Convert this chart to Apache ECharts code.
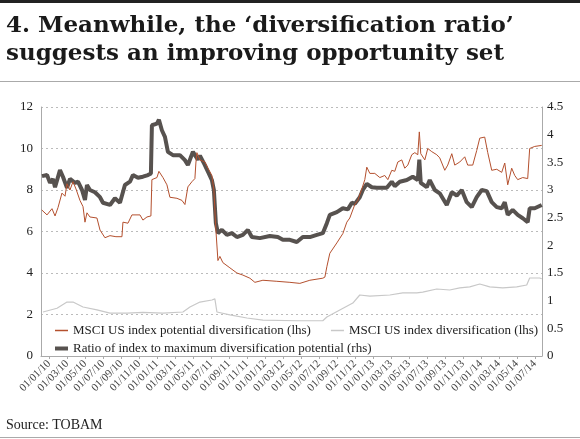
<!DOCTYPE html>
<html>
<head>
<meta charset="utf-8">
<script src="https://cdn.jsdelivr.net/npm/echarts@6/dist/echarts.min.js"></script>
<style>
html,body{margin:0;padding:0;background:#fff;}
#c{width:580px;height:439px;}
</style>
</head>
<body>
<div id="c"></div>
<script>
// x positions are months since 01/01/2010
const xTickLabels = ['01/01/10','01/03/10','01/05/10','01/07/10','01/09/10','01/11/10',
  '01/01/11','01/03/11','01/05/11','01/07/11','01/09/11','01/11/11',
  '01/01/12','01/03/12','01/05/12','01/07/12','01/09/12','01/11/12',
  '01/01/13','01/03/13','01/05/13','01/07/13','01/09/13','01/11/13',
  '01/01/14','01/03/14','01/05/14','01/07/14'];

const seriesNames = [
  'MSCI US index potential diversification (lhs)',
  'MSCI US index diversification (lhs)',
  'Ratio of index to maximum diversification potential (rhs)'
];

// MSCI US index potential diversification (lhs)
const potentialX = [-0.82,-0.23,0.32,0.66,0.99,1.43,1.77,1.99,2.32,2.66,2.99,3.43,3.77,3.99,4.21,4.54,5.32,5.66,6.21,6.77,7.43,8.1,8.21,8.77,9.21,10.1,10.43,10.88,11.32,11.43,11.99,12.21,12.66,13.1,13.43,14.21,14.77,15.1,15.43,15.88,16.21,16.32,16.43,16.77,17.32,17.66,18.1,18.32,18.54,18.77,18.99,19.32,20.1,20.88,21.54,22.32,22.88,23.77,25.32,26.77,27.88,28.99,30.43,30.66,30.88,31.21,31.99,32.66,33.1,33.43,33.99,34.32,34.77,35.1,35.32,35.66,36.21,36.77,37.32,37.66,38.1,38.43,38.77,39.21,39.54,39.88,40.32,40.66,40.99,41.16,41.32,41.77,42.1,42.54,43.1,43.43,43.99,44.32,44.77,45.1,45.66,46.21,46.54,47.1,47.54,47.88,48.43,48.77,49.21,49.77,50.32,50.66,50.99,51.43,51.77,52.1,52.66,53.21,53.38,53.43,53.99,54.77];
const potentialY = [7.04,6.8,7.1,6.75,7.15,7.85,7.7,8.3,8.0,8.4,8.05,7.5,7.2,6.45,6.9,6.7,6.65,6.07,5.7,5.8,5.75,5.75,6.45,6.4,6.8,6.8,6.55,6.7,6.75,8.5,8.6,8.9,8.6,8.25,7.65,7.6,7.5,7.3,8.15,8.4,8.55,9.3,9.8,9.45,9.35,9.05,8.7,8.0,6.1,4.6,4.8,4.5,4.25,4.0,3.9,3.75,3.55,3.65,3.6,3.55,3.5,3.65,3.75,3.8,4.3,4.95,5.45,5.9,6.45,6.65,7.3,7.5,8.05,8.5,9.1,8.8,8.8,8.6,8.7,8.5,8.95,8.9,9.35,9.45,9.05,9.2,9.7,9.8,9.7,10.8,9.75,9.45,10.0,9.85,9.7,9.55,8.95,9.2,9.75,9.2,9.35,9.6,9.2,9.2,9.9,10.5,10.55,9.8,8.95,9.0,8.85,9.3,8.25,9.05,8.7,8.5,8.6,8.55,8.6,10.0,10.1,10.15];

// MSCI US index diversification (lhs)
const diversX = [-0.68,0.88,1.99,2.66,3.77,5.32,6.77,8.66,10.43,12.66,14.88,15.66,16.77,18.1,18.43,18.66,20.1,21.99,23.77,27.54,30.43,30.88,32.32,33.77,34.54,35.66,37.88,39.32,40.88,41.54,43.1,44.54,45.66,46.77,47.88,48.99,50.43,51.99,53.1,53.43,54.54,54.77];
const diversY = [2.12,2.3,2.6,2.6,2.36,2.22,2.07,2.07,2.1,2.07,2.12,2.36,2.6,2.7,2.75,2.12,1.98,1.83,1.73,1.7,1.7,1.88,2.22,2.55,2.94,2.89,2.94,3.04,3.04,3.08,3.23,3.18,3.28,3.33,3.47,3.33,3.28,3.33,3.42,3.76,3.76,3.72];

// Ratio of index to maximum diversification potential (rhs)
const ratioX = [-0.79,-0.23,0.1,0.43,0.66,1.21,1.54,1.99,2.32,2.88,3.21,3.66,3.99,4.21,4.54,5.1,5.66,5.99,6.77,7.32,7.88,8.43,8.99,9.32,9.88,10.43,10.99,11.32,11.43,11.99,12.21,12.54,12.88,13.21,13.77,14.54,15.1,15.43,15.99,16.21,16.54,16.77,17.32,17.66,18.1,18.32,18.54,18.77,19.21,19.77,20.32,20.88,21.54,22.1,22.54,23.43,24.54,25.43,25.99,26.77,27.54,28.21,28.99,29.77,30.43,30.88,31.21,31.99,32.66,33.21,33.66,33.99,34.54,34.88,35.32,35.88,36.43,37.1,37.54,38.1,38.43,38.99,39.77,40.43,40.99,41.16,41.32,41.99,42.32,42.88,43.43,44.21,44.77,45.32,45.88,46.43,46.99,47.54,48.1,48.66,49.21,49.77,50.32,50.66,50.99,51.54,52.1,52.66,53.21,53.43,53.99,54.77];
const ratioY = [3.25,3.27,3.13,3.2,3.05,3.36,3.24,3.04,3.2,3.13,3.15,3.0,2.82,3.09,3.0,2.96,2.87,2.77,2.73,2.85,2.77,3.09,3.15,3.27,3.22,3.24,3.27,3.3,4.17,4.2,4.27,4.08,3.96,3.69,3.63,3.63,3.54,3.45,3.69,3.72,3.55,3.62,3.45,3.33,3.18,3.0,2.4,2.22,2.28,2.19,2.22,2.15,2.19,2.28,2.15,2.13,2.17,2.15,2.1,2.1,2.06,2.15,2.15,2.19,2.22,2.4,2.55,2.6,2.67,2.65,2.77,2.75,2.87,3.0,3.11,3.05,3.04,3.04,3.04,3.15,3.07,3.15,3.18,3.24,3.18,3.55,3.13,3.05,3.18,3.0,2.94,2.73,2.96,2.9,3.0,2.78,2.69,2.87,3.0,2.98,2.78,2.69,2.67,2.78,2.55,2.64,2.55,2.49,2.42,2.67,2.67,2.73];

const zip = (xs, ys) => xs.map((x, i) => [x, ys[i]]);
const tickPos = xTickLabels.map((_, i) => i * 2);

const serif = '"Liberation Serif", "DejaVu Serif", serif';
const chart = echarts.init(document.getElementById('c'), null, {renderer: 'canvas'});

chart.setOption({
  animation: false,
  backgroundColor: '#fff',
  title: [
    {
      text: '4. Meanwhile, the ‘diversification ratio’\nsuggests an improving opportunity set',
      left: 1, top: 7,
      textStyle: {fontFamily: '"DejaVu Serif", serif', fontWeight: 'bold', fontSize: 23, lineHeight: 28, color: '#1a1a1a'}
    },
    {
      text: 'Source: TOBAM',
      left: 1, top: 413,
      textStyle: {fontFamily: serif, fontWeight: 'normal', fontSize: 14, color: '#222'}
    }
  ],
  graphic: [
    {type: 'rect', shape: {x: 0, y: 0, width: 580, height: 3}, style: {fill: '#222'}},
    {type: 'rect', shape: {x: 0, y: 81, width: 580, height: 1}, style: {fill: '#aaa'}},
    {type: 'rect', shape: {x: 0, y: 437, width: 580, height: 1}, style: {fill: '#aaa'}}
  ],
  legend: [
    {
      left: 50, top: 319,
      itemWidth: 13, itemHeight: 1.5, itemGap: 20,
      icon: 'rect',
      textStyle: {fontFamily: serif, fontSize: 13, color: '#222'},
      data: [seriesNames[0], seriesNames[1]]
    },
    {
      left: 50, top: 337,
      itemWidth: 13, itemHeight: 4, itemGap: 4,
      icon: 'rect',
      textStyle: {fontFamily: serif, fontSize: 13, color: '#222'},
      data: [seriesNames[2]]
    }
  ],
  grid: {left: 41, right: 38, top: 107, bottom: 83, containLabel: false, outerBoundsMode: 'none'},
  xAxis: {
    type: 'value',
    min: -0.9, max: 54.8,
    axisLine: {show: true, onZero: false, lineStyle: {color: '#aaa', width: 1}},
    axisTick: {show: true, customValues: tickPos, length: 3, lineStyle: {color: '#aaa'}},
    splitLine: {show: false},
    axisLabel: {
      customValues: tickPos,
      rotate: 45, margin: 6,
      fontFamily: serif, fontSize: 11, color: '#444',
      formatter: v => xTickLabels[Math.round(v / 2)]
    }
  },
  yAxis: [
    {
      type: 'value', min: 0, max: 12, interval: 2, position: 'left',
      axisLine: {show: true, onZero: false, lineStyle: {color: '#aaa'}},
      axisTick: {show: false},
      splitLine: {show: true, lineStyle: {color: '#bbb', type: [2, 3], width: 1}},
      axisLabel: {fontFamily: serif, fontSize: 13, color: '#222', margin: 8}
    },
    {
      type: 'value', min: 0, max: 4.5, interval: 0.5, position: 'right',
      axisLine: {show: true, onZero: false, lineStyle: {color: '#aaa'}},
      axisTick: {show: false},
      splitLine: {show: false},
      axisLabel: {fontFamily: serif, fontSize: 13, color: '#222', margin: 5}
    }
  ],
  series: [
    {
      name: seriesNames[1], type: 'line', yAxisIndex: 0, showSymbol: false, symbol: 'none',
      data: zip(diversX, diversY),
      lineStyle: {color: '#c8c8c8', width: 1.2}, itemStyle: {color: '#c8c8c8'}
    },
    {
      name: seriesNames[2], type: 'line', yAxisIndex: 1, showSymbol: false, symbol: 'none',
      data: zip(ratioX, ratioY),
      lineStyle: {color: '#57524f', width: 4}, itemStyle: {color: '#57524f'}
    },
    {
      name: seriesNames[0], type: 'line', yAxisIndex: 0, showSymbol: false, symbol: 'none',
      data: zip(potentialX, potentialY),
      lineStyle: {color: '#b4502e', width: 1}, itemStyle: {color: '#b4502e'}
    }
  ]
});
</script>
</body>
</html>
